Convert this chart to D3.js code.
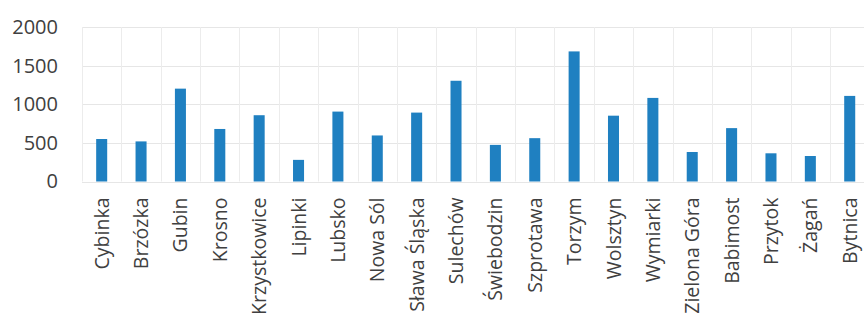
<!DOCTYPE html>
<html>
<head>
<meta charset="utf-8">
<script src="https://cdn.jsdelivr.net/npm/d3@7"></script>
<style>
  html, body { margin: 0; padding: 0; background: #ffffff; }
  svg { display: block; }
  text { font-family: "Open Sans", "Noto Sans", sans-serif; fill: #404040; }
</style>
</head>
<body>
<svg id="chart" width="864" height="321"></svg>
<script>
// Towns along the x axis
const towns = [
  "Cybinka", "Brzózka", "Gubin", "Krosno", "Krzystkowice", "Lipinki",
  "Lubsko", "Nowa Sól", "Sława Śląska", "Sulechów", "Świebodzin",
  "Szprotawa", "Torzym", "Wolsztyn", "Wymiarki", "Zielona Góra",
  "Babimost", "Przytok", "Żagań", "Bytnica"
];

// One value per town
const values = [
  550, 519, 1202, 680, 858, 280,
  905, 596, 892, 1304, 474,
  561, 1684, 852, 1082, 382,
  691, 365, 330, 1108
];

// Y axis ticks
const yTicks = [0, 500, 1000, 1500, 2000];

const svg = d3.select("#chart");

const plot = { left: 82, right: 869.4, top: 27, bottom: 181.5 };

const x = d3.scaleBand()
  .domain(towns)
  .range([plot.left, plot.right])
  .padding(0);

const y = d3.scaleLinear()
  .domain([0, 2000])
  .range([plot.bottom, plot.top]);

const barW = x.bandwidth() * 0.28;

// Horizontal gridlines
svg.append("g")
  .selectAll("line")
  .data(yTicks)
  .join("line")
  .attr("x1", plot.left)
  .attr("x2", plot.right)
  .attr("y1", d => Math.round(y(d)) + 0.5)
  .attr("y2", d => Math.round(y(d)) + 0.5)
  .attr("stroke", "#e6e6e6")
  .attr("stroke-width", 1);

// Vertical gridlines at category boundaries
const bounds = towns.map(t => x(t)).concat([plot.right]);
svg.append("g")
  .selectAll("line")
  .data(bounds)
  .join("line")
  .attr("x1", d => Math.round(d) + 0.5)
  .attr("x2", d => Math.round(d) + 0.5)
  .attr("y1", plot.top)
  .attr("y2", plot.bottom)
  .attr("stroke", "#ececec")
  .attr("stroke-width", 1);

// Bars
svg.append("g")
  .selectAll("rect")
  .data(towns.map((t, i) => ({ town: t, value: values[i] })))
  .join("rect")
  .attr("x", d => x(d.town) + x.bandwidth() / 2 - barW / 2)
  .attr("width", barW)
  .attr("y", d => y(d.value))
  .attr("height", d => y(0) - y(d.value))
  .attr("fill", "#1f80c1");

// Y axis labels
const yAxis = d3.axisLeft(y).tickValues(yTicks).tickFormat(d3.format("d"))
  .tickSize(0).tickPadding(0);
const gy = svg.append("g")
  .attr("transform", "translate(58,0)")
  .call(yAxis);
gy.select(".domain").remove();
gy.selectAll("text")
  .attr("font-size", 20)
  .attr("font-family", "Open Sans, sans-serif")
  .attr("fill", "#404040");

// X axis labels, rotated
const xAxis = d3.axisBottom(x).tickSize(0).tickPadding(0);
const gx = svg.append("g")
  .attr("transform", `translate(0,${plot.bottom})`)
  .call(xAxis);
gx.select(".domain").remove();
gx.selectAll("text")
  .attr("font-size", 19.5)
  .attr("font-family", "Open Sans, sans-serif")
  .attr("fill", "#404040")
  .attr("text-anchor", "end")
  .attr("transform", "translate(0,16) rotate(-90)")
  .attr("x", 0)
  .attr("y", 0)
  .attr("dy", "0.36em");
</script>
</body>
</html>
